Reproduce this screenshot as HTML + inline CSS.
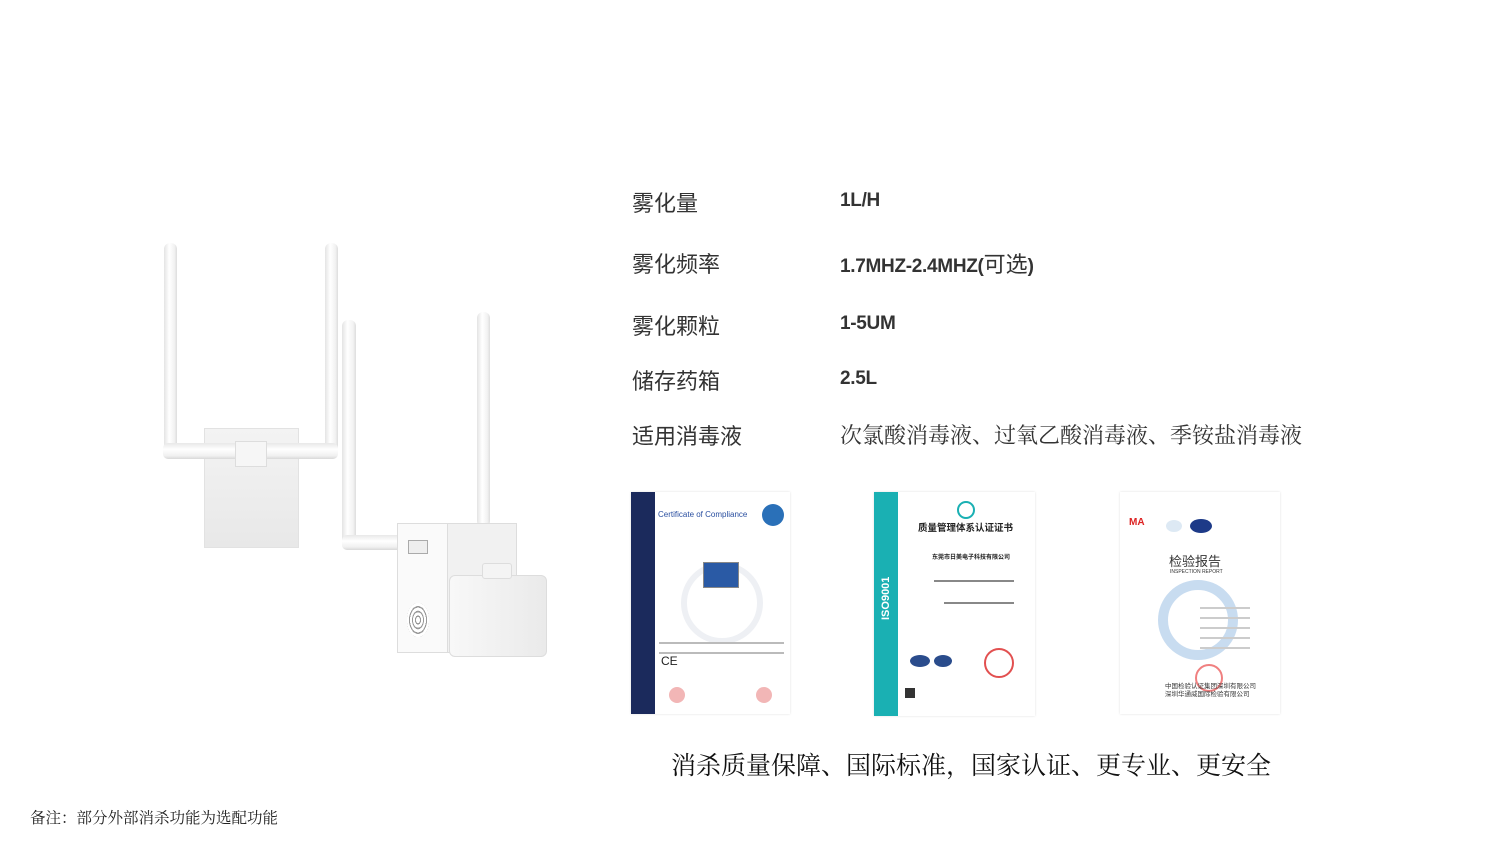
<!DOCTYPE html>
<html><head><meta charset="utf-8"><style>
body{margin:0;width:1500px;height:841px;background:#fff;position:relative;overflow:hidden;font-family:"Liberation Sans","Noto Sans CJK SC",sans-serif;color:#222}
.a{position:absolute;white-space:nowrap}
.l{font-size:22px;left:632px;color:#333}
.v{font-size:22px;left:840px;color:#333}
.b{font-family:"Liberation Sans","Noto Sans CJK SC",sans-serif;font-weight:bold;font-size:19px;letter-spacing:-0.3px}
.p{position:absolute;background:linear-gradient(90deg,#e4e4e4,#fff 40%,#f2f2f2 80%,#ddd);border-radius:6px}
.h{position:absolute;background:linear-gradient(180deg,#e8e8e8,#fff 40%,#f0f0f0 80%,#d8d8d8);border-radius:5px}
.cert{position:absolute;background:#fff;box-shadow:0 0 2px #ddd;overflow:hidden}
.t{position:absolute;background:#ccc;height:2px}
</style></head><body>
<div class="a l" style="top:186px">雾化量</div><div class="a v b" style="top:190px">1L/H</div>
<div class="a l" style="top:247px">雾化频率</div><div class="a v" style="top:247px"><span class="b">1.7MHZ-2.4MHZ(</span>可选<span class="b">)</span></div>
<div class="a l" style="top:309px">雾化颗粒</div><div class="a v b" style="top:313px">1-5UM</div>
<div class="a l" style="top:364px">储存药箱</div><div class="a v b" style="top:368px">2.5L</div>
<div class="a l" style="top:419px">适用消毒液</div><div class="a v" style="top:419px;font-family:'Noto Serif CJK SC',serif">次氯酸消毒液、过氧乙酸消毒液、季铵盐消毒液</div>

<!-- product -->
<div class="a" style="left:204px;top:428px;width:93px;height:118px;background:linear-gradient(#f3f3f3,#e8e8e8);border:1px solid #e2e2e2"></div>
<div class="p" style="left:164px;top:243px;width:13px;height:210px"></div>
<div class="p" style="left:325px;top:243px;width:13px;height:210px"></div>
<div class="h" style="left:163px;top:443px;width:175px;height:16px"></div>
<div class="a" style="left:235px;top:441px;width:30px;height:24px;background:#f6f6f6;border:1px solid #ddd"></div>
<div class="p" style="left:342px;top:320px;width:14px;height:230px"></div>
<div class="h" style="left:342px;top:535px;width:60px;height:15px"></div>
<div class="p" style="left:477px;top:312px;width:13px;height:215px"></div>
<div class="a" style="left:397px;top:523px;width:50px;height:128px;background:#fafafa;border:1px solid #ddd"></div>
<div class="a" style="left:447px;top:523px;width:68px;height:128px;background:#f1f1f1;border:1px solid #ddd"></div>
<div class="a" style="left:408px;top:540px;width:18px;height:12px;border:1px solid #aaa;background:#eee"></div>
<div class="a" style="left:407px;top:603px;width:22px;height:34px;border-radius:50%;background:repeating-radial-gradient(#fff 0 2px,#999 2px 3px)"></div>
<div class="a" style="left:449px;top:575px;width:96px;height:80px;background:linear-gradient(90deg,#f8f8f8,#eaeaea);border:1px solid #ddd;border-radius:6px"></div>
<div class="a" style="left:482px;top:563px;width:28px;height:14px;background:#f4f4f4;border:1px solid #ddd;border-radius:3px"></div>

<!-- certs -->
<div class="cert" style="left:631px;top:492px;width:159px;height:222px">
 <div class="a" style="left:0;top:0;width:24px;height:222px;background:#1b2a5c"></div>
 <div class="a" style="left:27px;top:18px;font-size:8px;color:#2a4fa0">Certificate of Compliance</div>
 <div class="a" style="left:131px;top:12px;width:22px;height:22px;border-radius:50%;background:#2a70b8"></div>
 <div class="a" style="left:50px;top:70px;width:70px;height:70px;border-radius:50%;border:6px solid #eef0f4"></div>
 <div class="a" style="left:72px;top:70px;width:34px;height:24px;background:#2a5aa5;border:1px solid #888"></div>
 <div class="t" style="left:28px;top:150px;width:125px;background:#bbb"></div>
 <div class="t" style="left:28px;top:160px;width:125px;background:#bbb"></div>
 <div class="a" style="left:30px;top:162px;font-size:12px">CE</div>
 <div class="a" style="left:38px;top:195px;width:16px;height:16px;border-radius:50%;background:#f2b6b6"></div>
 <div class="a" style="left:125px;top:195px;width:16px;height:16px;border-radius:50%;background:#f2b6b6"></div>
</div>
<div class="cert" style="left:874px;top:492px;width:161px;height:224px">
 <div class="a" style="left:0;top:0;width:24px;height:224px;background:#1ab0b3"></div>
 <div class="a" style="left:0px;top:110px;transform:rotate(-90deg);transform-origin:center;width:24px;text-align:center;font-size:11px;font-weight:bold;color:#fff">ISO9001</div>
 <div class="a" style="left:83px;top:9px;width:14px;height:14px;border-radius:50%;border:2px solid #1ab0b3"></div>
 <div class="a" style="left:44px;top:28px;font-size:9.5px;font-family:'Noto Sans CJK SC';font-weight:bold;color:#222">质量管理体系认证证书</div>
 <div class="a" style="left:58px;top:60px;font-size:6px;font-family:'Noto Sans CJK SC';font-weight:bold">东莞市日美电子科技有限公司</div>
 <div class="t" style="left:60px;top:88px;width:80px;background:#888"></div>
 <div class="t" style="left:70px;top:110px;width:70px;background:#888"></div>
 <div class="a" style="left:36px;top:163px;width:20px;height:12px;border-radius:50%;background:#2a4c8c"></div>
 <div class="a" style="left:60px;top:163px;width:18px;height:12px;border-radius:50%;background:#2a4c8c"></div>
 <div class="a" style="left:110px;top:156px;width:26px;height:26px;border-radius:50%;border:2px solid #e25050"></div>
 <div class="a" style="left:31px;top:196px;width:10px;height:10px;background:#333"></div>
</div>
<div class="cert" style="left:1120px;top:492px;width:160px;height:222px">
 <div class="a" style="left:9px;top:25px;font-size:10px;color:#d22;font-weight:bold">MA</div>
 <div class="a" style="left:46px;top:28px;width:16px;height:12px;border-radius:50%;background:#dde9f4"></div>
 <div class="a" style="left:70px;top:27px;width:22px;height:14px;border-radius:50%;background:#1d3a88"></div>
 <div class="a" style="left:49px;top:59px;font-size:13px;font-family:'Noto Sans CJK SC';color:#333">检验报告</div>
 <div class="a" style="left:50px;top:77px;font-size:5px;color:#333">INSPECTION REPORT</div>
 <div class="a" style="left:38px;top:88px;width:80px;height:80px;border-radius:50%;border:10px solid #c8dcf0;box-sizing:border-box"></div>
 <div class="t" style="left:80px;top:115px;width:50px"></div>
 <div class="t" style="left:80px;top:125px;width:50px"></div>
 <div class="t" style="left:80px;top:135px;width:50px"></div>
 <div class="t" style="left:80px;top:145px;width:50px"></div>
 <div class="t" style="left:80px;top:155px;width:50px"></div>
 <div class="a" style="left:75px;top:172px;width:24px;height:24px;border-radius:50%;border:2px solid #f08080"></div>
 <div class="a" style="left:45px;top:189px;font-size:6.5px;font-family:'Noto Sans CJK SC';line-height:8px;color:#333">中国检验认证集团深圳有限公司<br>深圳华通威国际检验有限公司</div>
</div>

<div class="a" style="left:671px;top:746px;font-size:25px;font-family:'Noto Serif CJK SC',serif;color:#111">消杀质量保障、国际标准，国家认证、更专业、更安全</div>
<div class="a" style="left:30px;top:806px;font-size:15.5px;font-family:'Noto Serif CJK SC',serif;color:#222">备注：部分外部消杀功能为选配功能</div>
</body></html>
